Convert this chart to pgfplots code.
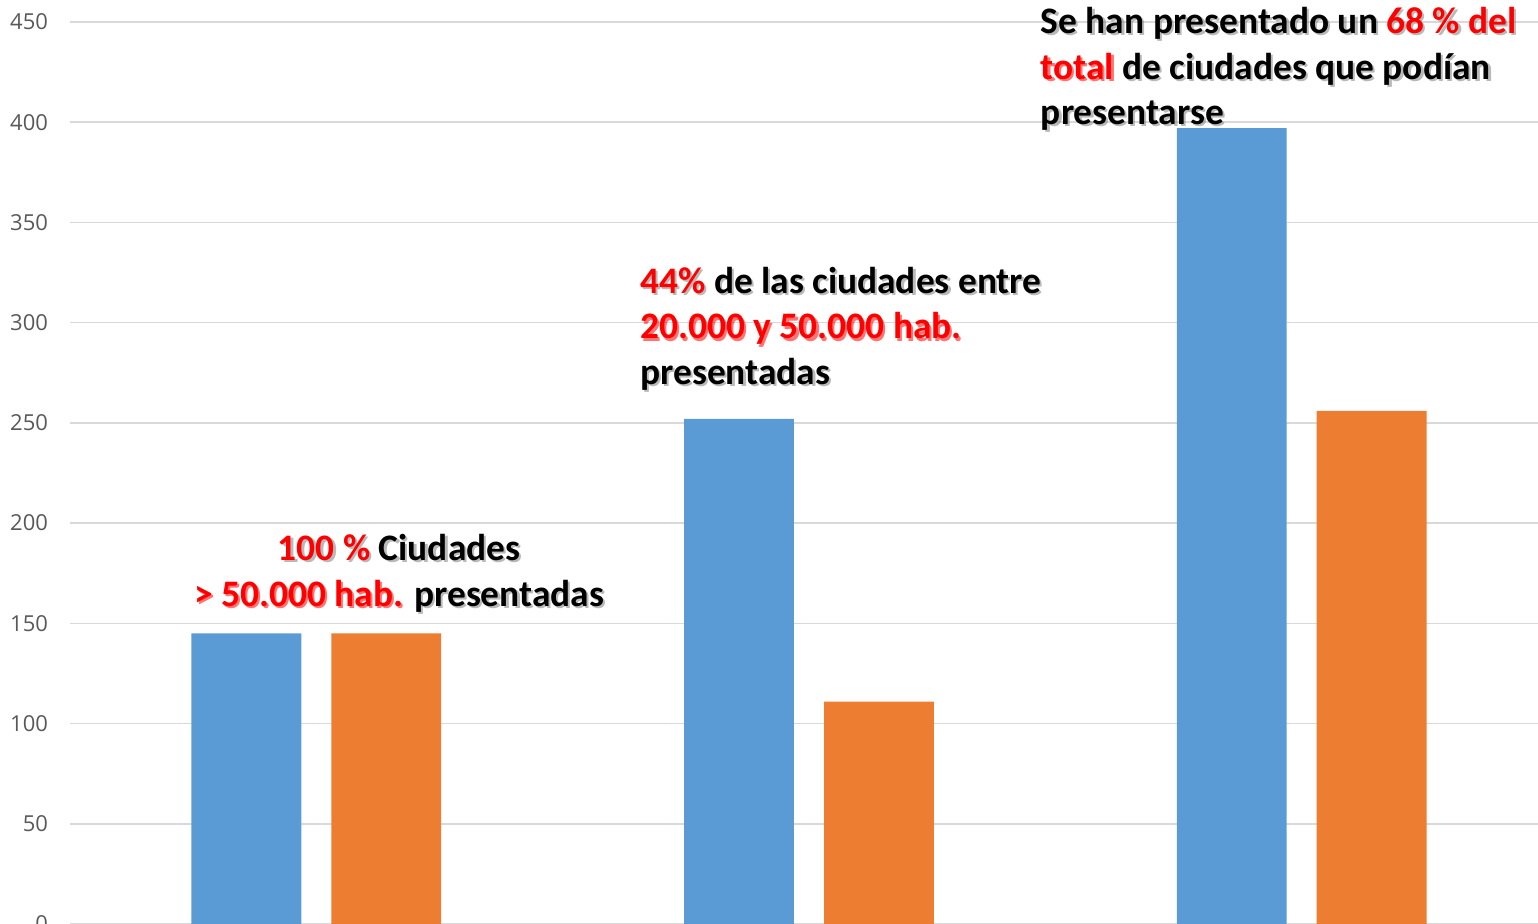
\documentclass[border=0pt]{standalone}
\usepackage{pgfplots}
\pgfplotsset{compat=1.18}
\usepackage{fontspec}
\setmainfont{Carlito}
\newfontfamily\tickfont{Open Sans}
\definecolor{cblue}{HTML}{5B9BD5}
\definecolor{corange}{HTML}{ED7D31}
\definecolor{cgrid}{HTML}{D9D9D9}
\definecolor{ctick}{HTML}{595959}
\definecolor{rcol}{HTML}{FF0000}
\newcommand{\R}[1]{\textcolor{rcol}{#1}}
\newcommand{\annot}[4]{%
  \node[anchor=#2, align=#3, inner sep=0pt, text=black!50, opacity=0.55, font=\fontsize{18.7}{22.75}\selectfont\bfseries, xshift=1.1pt, yshift=-1.1pt] at (#1) {\colorlet{rcol}{black!50}#4};
  \node[anchor=#2, align=#3, inner sep=0pt, font=\fontsize{18.7}{22.75}\selectfont\bfseries] at (#1) {#4};
}
\begin{document}
\begin{tikzpicture}
\begin{axis}[
  at={(0,0)}, anchor=south west,
  scale only axis,
  width=739pt, height=451pt,
  xmin=-0.5, xmax=2.5,
  ymin=0, ymax=450,
  ytick={0,50,...,450},
  xtick=\empty,
  axis line style={draw=none},
  ymajorgrids,
  grid style={draw=cgrid, line width=0.75pt},
  major tick length=0pt,
  yticklabel style={font=\tickfont\fontsize{11}{12}\selectfont, text=ctick, xshift=-7.5pt},
  /pgf/number format/assume math mode=true,
  ybar, bar width=0.223,
  clip=false,
]
\addplot[fill=cblue, draw=none, bar shift=-0.142] coordinates {(0,145) (1,252) (2,397)};
\addplot[fill=corange, draw=none, bar shift=0.142] coordinates {(0,145) (1,111) (2,256)};
\annot{axis cs:0.168,175}{center}{center}{\R{100 \%} Ciudades\\ \R{> 50.000 hab.} presentadas}
\annot{axis cs:0.657,297}{west}{left}{\R{44\%} de las ciudades entre\\ \R{20.000 y 50.000 hab.}\\ presentadas}
\annot{axis cs:1.47,426.5}{west}{left}{Se han presentado un \R{68 \% del}\\ \R{total} de ciudades que podían\\ presentarse}
\end{axis}
\pgfresetboundingbox
\path[use as bounding box] (-35pt,0.5pt) rectangle (734pt,462pt);
\end{tikzpicture}
\end{document}
